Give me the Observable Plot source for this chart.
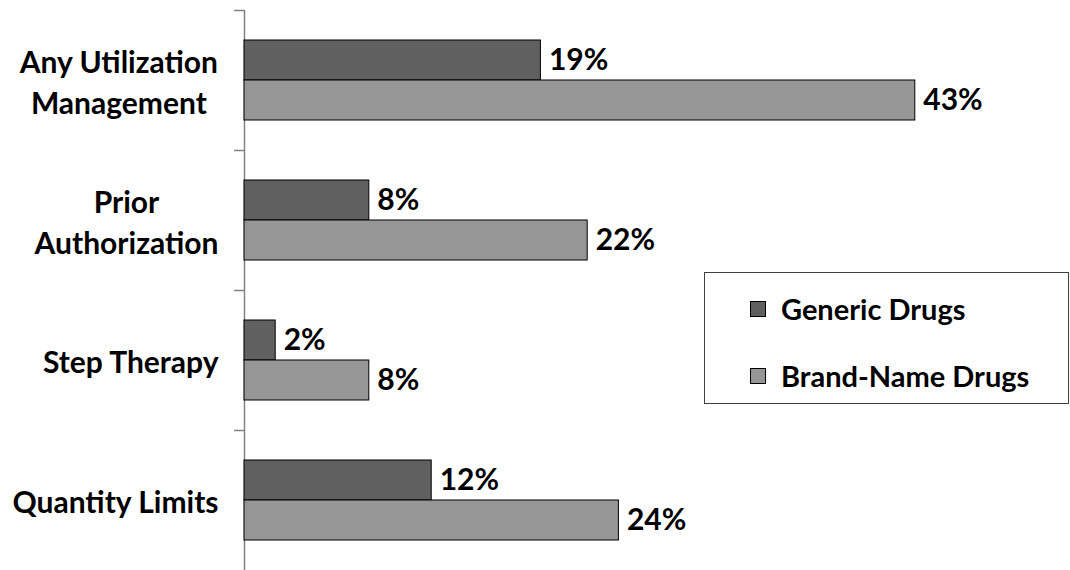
<!DOCTYPE html>
<html>
<head>
<meta charset="utf-8">
<script src="https://cdn.jsdelivr.net/npm/d3@7"></script>
<script src="https://cdn.jsdelivr.net/npm/@observablehq/plot@0.6"></script>
<style>
  html, body { margin: 0; padding: 0; background: #fff; }
  #wrap { position: relative; width: 1070px; height: 570px; font-family: Lato, "Open Sans", sans-serif; font-weight: bold; }
  #legend { position: absolute; left: 704px; top: 272px; width: 365px; height: 132px; box-sizing: border-box; border: 1px solid #404040; background: #fff; }
  .item { position: absolute; left: 45px; display: flex; align-items: center; font-size: 29px; color: #000; white-space: nowrap; }
  .sw { width: 16px; height: 16px; box-sizing: border-box; border: 1px solid #000; margin-right: 15px; }
</style>
</head>
<body>
<div id="wrap"></div>
<script>
const categories = ["Any Utilization Management", "Prior Authorization", "Step Therapy", "Quantity Limits"];
const labelLines = ["Any Utilization\nManagement", "Prior\nAuthorization", "Step Therapy", "Quantity Limits"];
const series = ["Generic Drugs", "Brand-Name Drugs"];
const genericValues = [19, 8, 2, 12];
const brandValues = [43, 22, 8, 24];
const colors = ["#606060", "#969696"];

const rows = categories.flatMap((c, i) => [
  {category: c, series: series[0], value: genericValues[i]},
  {category: c, series: series[1], value: brandValues[i]}
]);

const FONT = 30;

const chart = Plot.plot({
  width: 1070,
  height: 570,
  marginTop: 10,
  marginBottom: 0,
  marginLeft: 244,
  marginRight: 46,
  style: {fontFamily: "Lato, 'Open Sans', sans-serif", fontWeight: "bold", fontSize: FONT + "px", color: "#000", background: "transparent"},
  facet: {data: rows, y: "category"},
  fy: {domain: categories, padding: 0, axis: null},
  x: {domain: [0, 50], axis: null},
  y: {domain: series, paddingInner: 0, paddingOuter: 0.75, axis: null},
  color: {domain: series, range: colors},
  marks: [
    Plot.ruleX([0], {stroke: "#808080", strokeWidth: 1.5}),
    Plot.ruleY([series[0]], {x1: 0, x2: 0, insetLeft: -10, dy: -50, stroke: "#808080", strokeWidth: 1.5}),
    Plot.barX(rows, {x: "value", y: "series", fill: "series", stroke: "#000", strokeWidth: 1}),
    Plot.text(rows, {x: "value", y: "series", text: d => d.value + "%", textAnchor: "start", dx: 8, fontSize: FONT, fontWeight: "bold", fill: "#000"}),
    Plot.text(rows, {filter: d => d.series === series[0], text: d => labelLines[categories.indexOf(d.category)], frameAnchor: "left", textAnchor: "end", dx: -26, lineHeight: 1.35, fontSize: FONT, fontWeight: "bold", fill: "#000"})
  ]
});

const wrap = document.getElementById("wrap");
wrap.appendChild(chart);

// center multi-line category labels as blocks (Excel-style)
chart.querySelectorAll("text").forEach(t => {
  const spans = t.querySelectorAll("tspan");
  if (spans.length > 1) {
    const bb = t.getBBox();
    const cx = bb.x + bb.width / 2;
    t.setAttribute("text-anchor", "middle");
    spans.forEach(s => s.setAttribute("x", cx));
  }
});

const legend = document.createElement("div");
legend.id = "legend";
const tops = [18, 85];
series.forEach((s, i) => {
  const item = document.createElement("div");
  item.className = "item";
  item.style.top = tops[i] + "px";
  const sw = document.createElement("div");
  sw.className = "sw";
  sw.style.background = colors[i];
  const lab = document.createElement("span");
  lab.textContent = s;
  item.appendChild(sw);
  item.appendChild(lab);
  legend.appendChild(item);
});
wrap.appendChild(legend);
</script>
</body>
</html>
